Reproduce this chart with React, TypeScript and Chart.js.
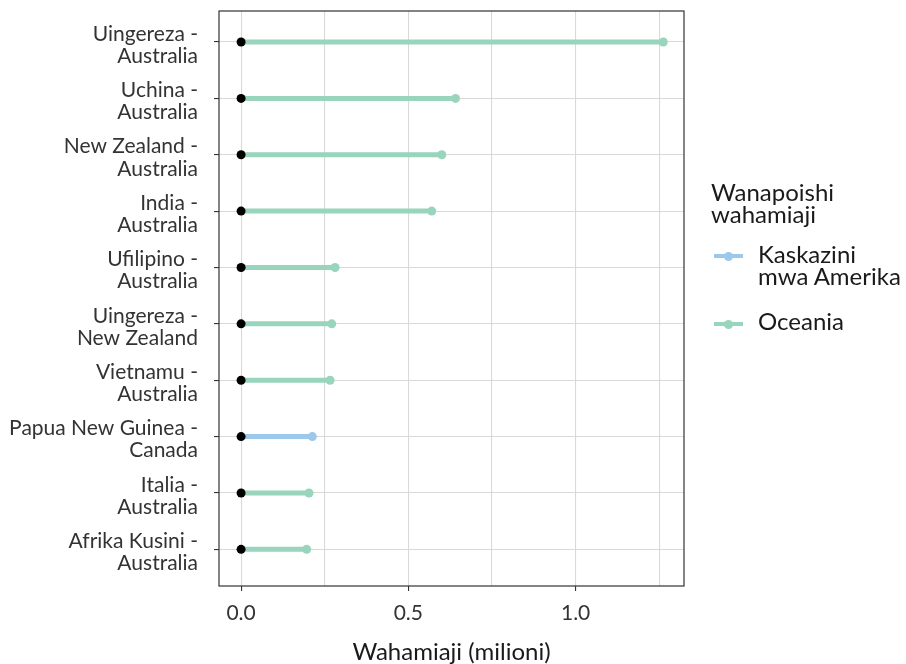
import React, { useEffect, useRef } from 'react';
import { Chart, registerables } from 'chart.js';

Chart.register(...registerables);

const categories: string[][] = [
  ['Uingereza -', 'Australia'],
  ['Uchina -', 'Australia'],
  ['New Zealand -', 'Australia'],
  ['India -', 'Australia'],
  ['Ufilipino -', 'Australia'],
  ['Uingereza -', 'New Zealand'],
  ['Vietnamu -', 'Australia'],
  ['Papua New Guinea -', 'Canada'],
  ['Italia -', 'Australia'],
  ['Afrika Kusini -', 'Australia'],
];
const values: number[] = [1.262, 0.641, 0.6, 0.57, 0.281, 0.271, 0.266, 0.213, 0.203, 0.196];
const regions: string[] = [
  'Oceania', 'Oceania', 'Oceania', 'Oceania', 'Oceania',
  'Oceania', 'Oceania', 'Kaskazini mwa Amerika', 'Oceania', 'Oceania',
];
const regionColors: Record<string, string> = {
  'Kaskazini mwa Amerika': '#9bc8eb',
  Oceania: '#99d4bd',
};
const legendTitle: string[] = ['Wanapoishi', 'wahamiaji'];
const legendItems: { key: string; lines: string[] }[] = [
  { key: 'Kaskazini mwa Amerika', lines: ['Kaskazini', 'mwa Amerika'] },
  { key: 'Oceania', lines: ['Oceania'] },
];
const xTickLabels: number[] = [0, 0.5, 1.0];
const xTitle = 'Wahamiaji (milioni)';

const FONT = 'Lato';
const FS = 21;
const FS_BIG = 24;
const TEXT = '#333333';

const isMajor = (v: number) => xTickLabels.some((t) => Math.abs(t - v) < 1e-9);

const borderPlugin = {
  id: 'panelBorder',
  afterDraw(chart: any) {
    const { ctx, chartArea } = chart;
    ctx.save();
    ctx.strokeStyle = '#333333';
    ctx.lineWidth = 1.2;
    ctx.strokeRect(chartArea.left, chartArea.top, chartArea.right - chartArea.left, chartArea.bottom - chartArea.top);
    ctx.restore();
  },
};

export default function App() {
  const ref = useRef<HTMLCanvasElement | null>(null);

  useEffect(() => {
    document.body.style.margin = '0';
    if (!ref.current) return;
    const lineSets = values.map((v, i) => {
      const c = regionColors[regions[i]];
      return {
        label: categories[i].join(' '),
        data: [
          { x: 0, y: i + 1 },
          { x: v, y: i + 1 },
        ],
        showLine: true,
        borderColor: c,
        borderWidth: 5,
        borderCapStyle: 'butt',
        pointRadius: [0, 4.5],
        pointBackgroundColor: c,
        pointBorderWidth: 0,
        order: 1,
      };
    });
    const startSet = {
      label: 'start',
      data: values.map((_, i) => ({ x: 0, y: i + 1 })),
      pointRadius: 4.5,
      pointBackgroundColor: '#000000',
      pointBorderWidth: 0,
      showLine: false,
      order: 0,
    };
    const chart = new Chart(ref.current, {
      type: 'scatter',
      data: { datasets: [startSet, ...lineSets] as any },
      plugins: [borderPlugin],
      options: {
        animation: false,
        responsive: true,
        maintainAspectRatio: false,
        layout: { padding: { left: 0, top: 11, right: 222, bottom: 0 } },
        plugins: { legend: { display: false }, tooltip: { enabled: false } },
        scales: {
          x: {
            type: 'linear',
            min: -0.066,
            max: 1.324,
            border: { display: false },
            grid: {
              color: '#d9d9d9',
              lineWidth: 1.1,
              drawTicks: true,
              tickLength: 5,
              tickColor: (ctx: any) => (isMajor(ctx.tick.value) ? '#333333' : 'rgba(0,0,0,0)'),
            },
            ticks: {
              stepSize: 0.25,
              includeBounds: false,
              autoSkip: false,
              maxRotation: 0,
              padding: 10,
              color: TEXT,
              font: { family: FONT, size: FS },
              callback: (v: any) => (isMajor(Number(v)) ? Number(v).toFixed(1) : ''),
            },
            title: {
              display: true,
              text: xTitle,
              color: '#1a1a1a',
              font: { family: FONT, size: FS_BIG, lineHeight: 1 },
              padding: { top: 4, bottom: 0 },
            },
            afterFit: (s: any) => {
              s.height = 78;
              s.paddingLeft = 0;
              s.paddingRight = 0;
            },
          },
          y: {
            type: 'linear',
            reverse: true,
            min: 0.45,
            max: 10.65,
            border: { display: false },
            grid: {
              color: '#d9d9d9',
              lineWidth: 1.1,
              drawTicks: true,
              tickLength: 5,
              tickColor: '#333333',
            },
            ticks: {
              stepSize: 1,
              includeBounds: false,
              autoSkip: false,
              padding: 16,
              labelOffset: 3,
              color: TEXT,
              font: { family: FONT, size: FS, lineHeight: 1.05 },
              callback: (v: any) => categories[Number(v) - 1] ?? '',
            },
            afterFit: (s: any) => {
              s.width = 219;
              s.paddingTop = 0;
              s.paddingBottom = 0;
            },
          },
        },
      } as any,
    });
    return () => chart.destroy();
  }, []);

  const textStyle: React.CSSProperties = {
    position: 'absolute',
    fontFamily: FONT,
    fontSize: FS_BIG,
    lineHeight: '22px',
    color: '#1a1a1a',
    whiteSpace: 'nowrap',
  };

  const textTops = [243, 310];
  const symbolY = [256, 324];

  return (
    <div style={{ position: 'relative', width: 906, height: 664 }}>
      <canvas ref={ref} style={{ display: 'block' }} />
      <div style={{ ...textStyle, left: 711, top: 181 }}>
        {legendTitle.map((t, i) => (
          <div key={i}>{t}</div>
        ))}
      </div>
      {legendItems.map((it, i) => {
        const c = regionColors[it.key];
        return (
          <div key={it.key}>
            <div style={{ position: 'absolute', left: 714, top: symbolY[i] - 1.75, width: 29, height: 3.5, background: c }} />
            <div
              style={{ position: 'absolute', left: 723.5, top: symbolY[i] - 4.5, width: 9, height: 9, borderRadius: '50%', background: c }}
            />
            <div style={{ ...textStyle, left: 758, top: textTops[i] }}>
              {it.lines.map((l, j) => (
                <div key={j}>{l}</div>
              ))}
            </div>
          </div>
        );
      })}
    </div>
  );
}
